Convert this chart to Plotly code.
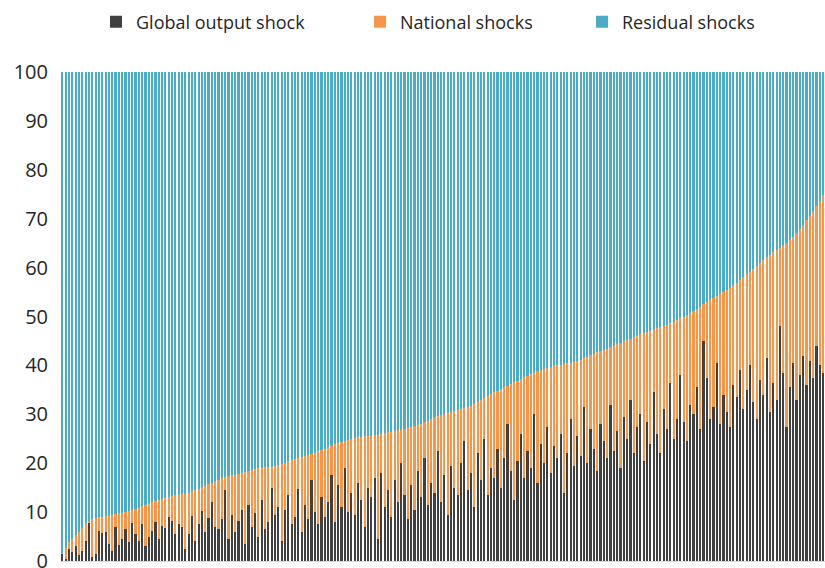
import plotly.graph_objects as go

# Share of output-growth variance explained by each shock, one bar per economy,
# economies ordered by the combined global + national share.

# Combined global + national share (top of the orange segment), %
combined_share = [
    1.7, 2.6, 3.8, 4.6, 5.3, 6.0, 6.8, 7.5, 8.2, 8.5,
    8.7, 8.9, 9.0, 9.2, 9.3, 9.5, 9.6, 9.8, 9.9, 10.1,
    10.3, 10.5, 10.7, 10.9, 11.2, 11.5, 11.8, 12.0, 12.3, 12.5,
    12.7, 12.9, 13.1, 13.3, 13.4, 13.5, 13.7, 13.8, 14.0, 14.2,
    14.5, 14.8, 15.1, 15.4, 15.7, 16.0, 16.3, 16.6, 17.0, 17.2,
    17.3, 17.5, 17.6, 17.8, 18.0, 18.2, 18.4, 18.6, 18.9, 19.0,
    19.1, 19.2, 19.3, 19.3, 19.5, 19.7, 19.9, 20.1, 20.5, 20.7,
    20.9, 21.1, 21.3, 21.5, 21.7, 21.9, 22.1, 22.4, 22.7, 23.0,
    23.3, 23.6, 23.9, 24.2, 24.4, 24.6, 24.8, 25.0, 25.2, 25.3,
    25.4, 25.5, 25.6, 25.6, 25.7, 25.8, 26.0, 26.1, 26.3, 26.4,
    26.5, 26.7, 26.8, 27.0, 27.2, 27.4, 27.6, 27.8, 28.1, 28.4,
    28.7, 29.0, 29.4, 29.7, 29.9, 30.1, 30.3, 30.5, 30.7, 30.9,
    31.1, 31.3, 31.5, 31.8, 32.1, 32.5, 32.9, 33.3, 33.7, 34.1,
    34.5, 34.8, 35.1, 35.5, 35.8, 36.2, 36.6, 36.9, 37.3, 37.6,
    37.9, 38.2, 38.5, 38.9, 39.1, 39.3, 39.5, 39.7, 39.9, 40.0,
    40.1, 40.2, 40.4, 40.5, 40.6, 40.9, 41.2, 41.5, 41.8, 42.1,
    42.4, 42.7, 43.0, 43.2, 43.4, 43.7, 44.0, 44.3, 44.6, 44.9,
    45.2, 45.5, 45.8, 46.2, 46.5, 46.7, 46.9, 47.1, 47.4, 47.6,
    47.8, 48.0, 48.3, 48.6, 48.8, 49.2, 49.6, 50.0, 50.4, 50.8,
    51.2, 51.6, 52.0, 52.5, 52.9, 53.3, 53.8, 54.2, 54.7, 55.1,
    55.5, 55.9, 56.4, 56.9, 57.4, 58.0, 58.6, 59.2, 59.8, 60.4,
    61.0, 61.6, 62.1, 62.6, 63.2, 63.6, 64.1, 64.6, 65.1, 65.6,
    66.3, 67.0, 67.9, 68.8, 69.7, 70.6, 71.6, 72.6, 73.7, 74.8,
]

# Global output shock share, %
global_share = [
    1.5, 0.5, 2.5, 1.8, 3.0, 1.2, 2.0, 4.0, 7.8, 0.8,
    1.5, 6.2, 5.8, 6.0, 3.5, 2.0, 7.0, 3.2, 4.5, 6.5,
    3.8, 7.8, 5.5, 4.0, 7.5, 3.0, 5.0, 6.2, 8.0, 4.5,
    7.2, 6.8, 9.0, 8.2, 5.5, 7.5, 7.0, 2.5, 5.5, 9.2,
    4.0, 7.5, 10.2, 6.0, 8.8, 12.0, 7.0, 6.5, 8.5, 14.5,
    4.5, 9.5, 6.0, 8.2, 10.5, 3.5, 11.5, 7.0, 9.8, 5.0,
    12.5, 6.5, 8.0, 15.0, 9.5, 11.0, 4.0, 10.5, 13.5, 7.5,
    9.0, 14.8, 6.0, 11.5, 8.5, 16.5, 10.0, 7.5, 13.0, 9.0,
    12.0, 17.5, 8.0, 15.5, 11.0, 19.0, 10.0, 14.0, 9.5, 16.0,
    12.5, 7.0, 15.0, 13.0, 17.0, 4.5, 18.0, 11.0, 14.5, 9.0,
    16.5, 12.0, 20.0, 13.5, 8.5, 15.5, 10.5, 18.5, 13.0, 21.0,
    11.5, 16.0, 14.0, 22.5, 12.0, 17.5, 9.5, 19.5, 15.0, 13.5,
    20.0, 24.5, 14.5, 18.0, 11.0, 22.0, 16.5, 25.0, 13.5, 19.0,
    17.0, 23.0, 15.0, 21.0, 28.0, 18.5, 12.5, 20.5, 26.0, 17.0,
    22.5, 19.0, 30.0, 16.0, 24.0, 20.0, 27.5, 18.0, 23.5, 21.0,
    26.0, 14.0, 22.0, 29.0, 19.5, 25.5, 21.5, 31.5, 20.0, 27.0,
    23.0, 18.5, 28.0, 24.5, 21.0, 32.0, 22.5, 26.5, 19.0, 29.5,
    25.0, 33.0, 22.0, 27.5, 30.0, 20.5, 28.5, 24.0, 34.5, 26.0,
    22.0, 31.0, 27.0, 36.5, 25.0, 29.0, 38.0, 28.5, 24.5, 32.0,
    30.0, 35.5, 27.0, 45.0, 37.5, 29.0, 31.5, 40.5, 28.0, 34.0,
    30.5, 27.5, 36.0, 33.5, 39.0, 31.0, 35.0, 40.0, 32.5, 29.0,
    37.0, 34.0, 41.5, 30.5, 36.5, 33.0, 48.0, 38.5, 27.5, 35.5,
    40.5, 33.0, 38.0, 42.0, 36.0, 41.0, 37.5, 44.0, 40.0, 38.5,
]

economies = list(range(1, len(global_share) + 1))

national_share = [round(c - g, 2) for c, g in zip(combined_share, global_share)]
residual_share = [round(100 - c, 2) for c in combined_share]

series = [
    ("Global output shock", global_share, "#404040", "legend"),
    ("National shocks", national_share, "#F79646", "legend2"),
    ("Residual shocks", residual_share, "#4BACC6", "legend3"),
]

fig = go.Figure()
for name, values, color, legend_id in series:
    fig.add_trace(go.Bar(
        x=economies, y=values, name=name,
        marker=dict(color=color, line=dict(width=0)),
        legend=legend_id, showlegend=True,
    ))

legend_style = dict(
    orientation="h", xref="container", yref="container",
    yanchor="middle", xanchor="left", y=0.961,
    bgcolor="rgba(0,0,0,0)", font=dict(size=18, color="#262626"),
    itemwidth=30, visible=True,
)

fig.update_layout(
    barmode="stack",
    bargap=0.5,
    showlegend=True,
    width=825, height=568,
    margin=dict(l=61, r=0, t=72, b=7, autoexpand=False),
    paper_bgcolor="white", plot_bgcolor="white",
    font=dict(family="Open Sans, Liberation Sans, sans-serif", color="#262626"),
    legend=dict(legend_style, x=96 / 825),
    legend2=dict(legend_style, x=360 / 825),
    legend3=dict(legend_style, x=582 / 825),
    yaxis=dict(
        range=[0, 100], dtick=10, showgrid=False, zeroline=False,
        ticks="", ticklabelstandoff=12, ticklabeloverflow="allow",
        automargin=False,
        tickfont=dict(size=20, color="#262626"),
    ),
    xaxis=dict(
        showticklabels=False, ticks="", showgrid=False, zeroline=False,
        showline=True, linecolor="#D9D9D9", linewidth=1, automargin=False,
    ),
)

fig.write_html("out.html")
